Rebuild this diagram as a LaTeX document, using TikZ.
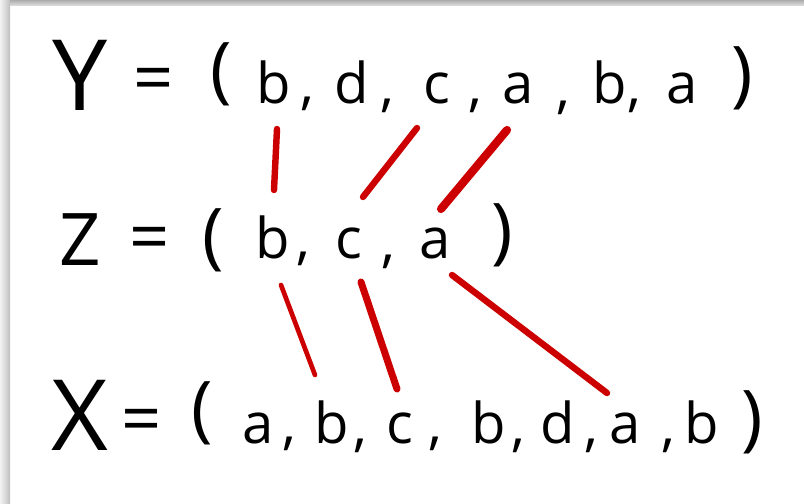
\documentclass[tikz,border=0pt]{standalone}
\usepackage{fontspec}
\setmainfont{Open Sans}
\usetikzlibrary{calc}

\tikzset{
  letter/.style={anchor=base, inner sep=0pt, font=\fontsize{48}{50}\selectfont},
  capital/.style={anchor=base, inner sep=0pt, font=\fontsize{84}{86}\selectfont},
  eqsign/.style={inner sep=0pt, font=\fontsize{60}{62}\selectfont},
  paren/.style={inner sep=0pt, font=\fontsize{62}{64}\selectfont},
  match/.style={red!80!black, line width=5.5pt, line cap=round},
}

\begin{document}
\begin{tikzpicture}[x=0.03cm, y=-0.03cm]
  \useasboundingbox (0,0) rectangle (804,504);
  \shade[top color=gray!65, bottom color=gray!30] (0,0) rectangle (804,5);
  \shade[left color=gray!10, right color=gray!50] (0,0) rectangle (10,504);

  % Y
  \node[capital] (Y) at (80,110) {Y};
  \node[eqsign] (yeq) at (154,85) {=};
  \node[paren] (ylp) at (221,74) {(};
  \node[letter] (yb) at (274,103) {b};
  \node[letter] (ycomma1) at (307,103) {,};
  \node[letter] (yd) at (352,103) {d};
  \node[letter] (ycomma2) at (387,105) {,};
  \node[letter] (yc) at (437,103) {c};
  \node[letter] (ycomma3) at (475,105) {,};
  \node[letter] (ya) at (518,103) {a};
  \node[letter] (ycomma4) at (563,107) {,};
  \node[letter] (yb2) at (610,103) {b};
  \node[letter] (ycomma5) at (634,105) {,};
  \node[letter] (ya2) at (682,103) {a};
  \node[paren] (yrp) at (742,78) {)};

  % Z
  \node[capital, font=\fontsize{62}{64}\selectfont] (Z) at (80,265) {Z};
  \node[eqsign] (zeq) at (150,244) {=};
  \node[paren] (zlp) at (213,240) {(};
  \node[letter] (zb) at (273,258) {b};
  \node[letter] (zcomma1) at (303,258) {,};
  \node[letter] (zc) at (349,258) {c};
  \node[letter] (zcomma2) at (388,261) {,};
  \node[letter] (za) at (435,258) {a};
  \node[paren] (zrp) at (502,235) {)};

  % X
  \node[capital] (X) at (80,450) {X};
  \node[eqsign] (xeq) at (142,426) {=};
  \node[paren] (xlp) at (202,413) {(};
  \node[letter] (xa) at (258,443) {a};
  \node[letter] (xcomma1) at (289,443) {,};
  \node[letter] (xb) at (332,443) {b};
  \node[letter] (xcomma2) at (360,445) {,};
  \node[letter] (xc) at (400,443) {c};
  \node[letter] (xcomma3) at (435,443) {,};
  \node[letter] (xb2) at (489,443) {b};
  \node[letter] (xcomma4) at (518,445) {,};
  \node[letter] (xd) at (558,443) {d};
  \node[letter] (xcomma5) at (591,445) {,};
  \node[letter] (xa2) at (625,443) {a};
  \node[letter] (xcomma6) at (668,445) {,};
  \node[letter] (xb3) at (702,443) {b};
  \node[paren] (xrp) at (752,422) {)};

  % common subsequence
  \draw[match] ($(yb.base)+(3,26)$) -- ($(zb.base)+(1,-68)$);
  \draw[match] ($(yc.base)+(-20,25)$) -- ($(zc.base)+(14,-61)$);
  \draw[match, line width=7pt] ($(ya.base)+(-11,27)$) -- ($(za.base)+(6,-49)$);
  \draw[match, line width=4pt] ($(zb.base)+(8,27)$) -- ($(xb.base)+(-17,-68)$);
  \draw[match, line width=6pt] ($(zc.base)+(12,24)$) -- ($(xc.base)+(-3,-54)$);
  \draw[match] ($(za.base)+(17,17)$) -- ($(xa2.base)+(-18,-50)$);
\end{tikzpicture}
\end{document}
